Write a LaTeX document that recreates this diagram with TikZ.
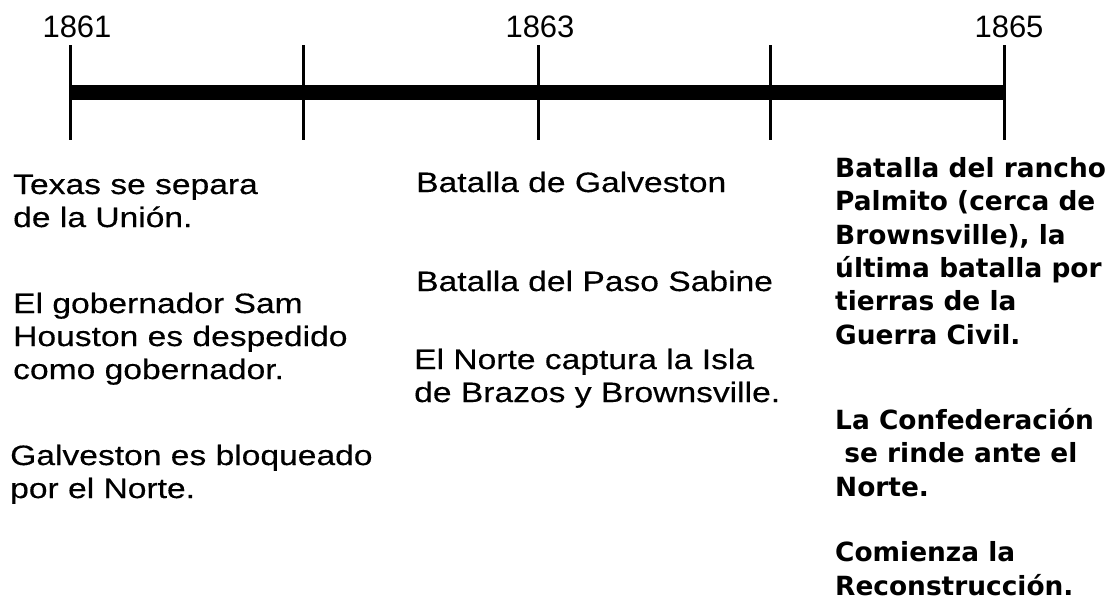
\documentclass[tikz,border=0pt]{standalone}
\usepackage{fontspec}
\setmainfont{Liberation Sans}
\newfontfamily\bodyfont[FakeStretch=1.2,FakeBold=0.4]{Liberation Sans}
\newfontfamily\boldfont{DejaVu Sans}

\begin{document}
\begin{tikzpicture}[x=1pt,y=-1pt,
  year/.style={anchor=base,inner sep=0pt,font=\fontsize{31}{31}\selectfont},
  event/.style={anchor=base west,align=left,inner sep=0pt,
    font=\bodyfont\fontsize{28}{33}\selectfont},
  endevent/.style={anchor=base west,align=left,inner sep=0pt,
    font=\boldfont\bfseries\fontsize{26.4}{33.3}\selectfont}]
  \useasboundingbox (0,0) rectangle (1107,605);

  % ticks
  \foreach \i/\x in {1/70,2/303,3/538,4/770,5/1004}
    \draw[line width=3pt] (\x,45) coordinate (top\i) -- (\x,140) coordinate (bot\i);

  % time bar
  \coordinate (barstart) at (70,92.5);
  \coordinate (barend) at (1004,92.5);
  \draw[line width=15pt] (barstart) -- (barend);

  % years
  \node[year] (y1861) at (77,37) {1861};
  \node[year] (y1863) at (540,37) {1863};
  \node[year] (y1865) at (1009,37) {1865};

  % 1861 (anchor = baseline of the last line)
  \node[event] (secede) at (13,227) {Texas se separa\\de la Unión.};
  \node[event] (houston) at (13,379) {El gobernador Sam\\Houston es despedido\\como gobernador.};
  \node[event] (blockade) at (10,498) {Galveston es bloqueado\\por el Norte.};

  % 1863
  \node[event] (galveston) at (416,192) {Batalla de Galveston};
  \node[event] (sabine) at (416,291) {Batalla del Paso Sabine};
  \node[event] (brazos) at (414,402) {El Norte captura la Isla\\de Brazos y Brownsville.};

  % 1865
  \node[endevent] (palmito) at (835,344) {Batalla del rancho\\Palmito (cerca de\\Brownsville), la\\última batalla por\\tierras de la\\Guerra Civil.};
  \node[endevent] (surrender) at (835,496) {La Confederación\\\ se rinde ante el\\Norte.};
  \node[endevent] (reconstr) at (835,595) {Comienza la\\Reconstrucción.};
\end{tikzpicture}
\end{document}
